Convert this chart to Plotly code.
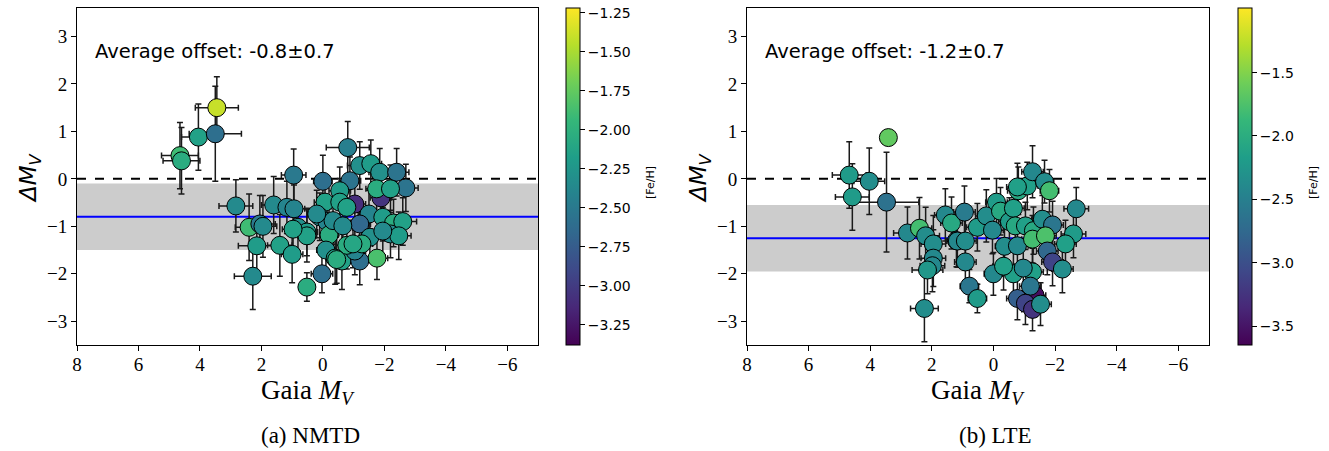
import plotly.graph_objects as go

W, H = 1329, 451

# ---------------- data: (a) NMTD ----------------
a_mv = [4.65, 4.60, 4.05, 3.45, 3.50, 2.83, 2.40, 2.05, 1.95, 2.15, 2.28, 1.60, 1.17, 0.94, 0.95,
        1.40, 1.00, 0.81, 0.52, 0.52, 0.52, 0.00, -0.07, 0.10, -0.13, -0.20, -0.10, 0.03, -0.33,
        -0.62, -0.81, -0.88, -0.55, -1.04, -1.20, -1.56, -1.85, -1.89, -2.40, -2.70, -1.50, -1.20,
        -1.95, -2.30, -2.60, -2.20, -2.47, -1.76, -1.20, -1.53, -1.04, -0.78, -1.27, -0.40, 0.20,
        -0.55, -0.78, -1.75, -2.20, -0.65, -1.95, -0.98, -0.45, 0.97]
a_dmv = [0.49, 0.38, 0.88, 1.50, 0.95, -0.57, -1.02, -0.95, -1.00, -1.41, -2.05, -0.55, -0.60, -0.63, 0.08,
         -1.40, -1.59, -1.02, -1.12, -1.20, -2.28, -0.05, -0.49, -0.80, -0.90, -1.18, -1.50, -2.00, -0.88,
         -1.73, 0.66, -0.04, -0.25, -0.53, 0.28, 0.32, 0.14, -0.40, 0.14, -0.19, -0.74, -0.95,
         -0.81, -0.93, -0.90, -1.16, -1.20, -1.67, -1.73, -1.23, -1.52, -1.40, -1.37, -1.67, -0.74,
         -0.49, -0.60, -0.21, -0.21, -0.99, -1.10, -1.37, -1.70, -1.06]
a_feh = [-1.90, -2.05, -2.15, -1.40, -2.60, -2.35, -1.90, -2.50, -2.35, -2.20, -2.35, -2.35, -2.40, -2.40, -2.50,
         -2.15, -2.20, -2.30, -2.20, -2.15, -2.05, -2.60, -2.15, -2.35, -2.40, -2.05, -2.30, -2.60, -2.35,
         -2.15, -2.45, -2.55, -2.20, -3.10, -2.30, -2.20, -2.30, -3.05, -2.55, -2.55, -2.40, -2.65,
         -2.20, -2.05, -2.15, -2.35, -2.20, -1.85, -2.60, -2.30, -2.40, -2.05, -2.05, -2.15, -2.35,
         -2.15, -2.15, -2.05, -2.15, -2.35, -2.35, -2.10, -2.05, -2.15]
a_xerr = [0.60, 0.60, 0.55, 0.70, 0.85, 0.55, 0.45, 0.50, 0.45, 0.60, 0.60, 0.40, 0.45, 0.35, 0.40,
          0.40, 0.35, 0.35, 0.35, 0.30, 0.25, 0.30, 0.35, 0.30, 0.35, 0.30, 0.30, 0.35, 0.35,
          0.30, 0.70, 0.35, 0.35, 0.35, 0.40, 0.35, 0.35, 0.35, 0.40, 0.40, 0.35, 0.35,
          0.35, 0.40, 0.45, 0.35, 0.40, 0.35, 0.35, 0.35, 0.35, 0.35, 0.35, 0.30, 0.30,
          0.35, 0.35, 0.35, 0.35, 0.35, 0.35, 0.35, 0.30, 0.35]
a_yerr = [0.70, 0.70, 0.70, 0.65, 1.00, 0.55, 0.70, 0.60, 0.65, 0.60, 0.70, 0.60, 0.55, 0.50, 0.55,
          0.65, 0.60, 0.50, 0.50, 0.55, 0.30, 0.55, 0.50, 0.50, 0.50, 0.55, 0.55, 0.40, 0.50,
          0.60, 0.55, 0.50, 0.50, 0.55, 0.50, 0.50, 0.50, 0.50, 0.50, 0.50, 0.50, 0.50,
          0.50, 0.50, 0.50, 0.50, 0.50, 0.45, 0.50, 0.50, 0.50, 0.50, 0.50, 0.55, 0.50,
          0.50, 0.50, 0.50, 0.50, 0.50, 0.50, 0.50, 0.50, 0.50]
a_mean, a_std = -0.8, 0.7
a_cmin, a_cmax = -3.38, -1.22
a_ticks = [-3.25, -3.0, -2.75, -2.5, -2.25, -2.0, -1.75, -1.5, -1.25]

# ---------------- data: (b) LTE ----------------
b_mv = [-1.35, 3.41, 4.68, 4.03, 4.58, 3.47, 2.79, 2.40, 2.20, 1.95, 1.95, 1.98, 2.14, 2.24, 1.56, 1.36,
        1.20, 0.94, 1.17, 0.91, 0.91, 0.78, 0.52, 0.52, 0.23, 0.03, -0.10, -0.23, -0.36, 0.00,
        -0.65, -0.52, -0.65, -0.78, -0.81, -1.10, -1.27, -1.66, -1.82, -0.71, -1.04, -1.30, -1.59,
        -1.92, -1.27, -1.69, -2.69, -2.60, -2.34, -1.75, -1.92, -2.24, -1.27, -1.20, -0.78, -1.04,
        -1.27, -1.53, -0.33, -0.97, -0.78]
b_dmv = [-2.45, 0.87, 0.08, -0.05, -0.38, -0.49, -1.14, -1.04, -1.20, -1.37, -1.67, -1.83, -1.92, -2.73, -0.76, -0.93,
         -1.30, -0.70, -1.31, -1.31, -1.75, -2.26, -2.52, -1.02, -0.78, -1.08, -0.49, -0.68, -1.42, -2.00,
         -2.00, -0.90, -0.62, -1.41, -0.25, -0.15, 0.15, -0.06, -0.25, -0.99, -0.99, -1.09, -0.85,
         -0.97, -1.27, -1.20, -0.63, -1.16, -1.37, -1.52, -1.75, -1.90, -1.96, -2.26, -2.52, -2.62,
         -2.75, -2.64, -1.84, -1.88, -0.17]
b_feh = [-3.55, -1.65, -2.20, -2.35, -2.20, -2.65, -2.40, -1.80, -2.35, -2.35, -2.40, -2.40, -2.25, -2.35, -2.40, -2.05,
         -2.40, -2.55, -2.40, -2.35, -2.40, -2.60, -2.20, -2.20, -2.35, -2.40, -2.20, -2.05, -2.35, -2.40,
         -2.15, -2.20, -2.15, -2.40, -2.05, -2.15, -2.40, -2.35, -1.80, -2.05, -2.15, -2.05, -2.35,
         -2.60, -1.80, -1.75, -2.40, -2.20, -2.15, -2.75, -3.10, -2.35, -2.15, -2.60, -2.85, -3.10,
         -3.25, -2.35, -2.15, -2.40, -2.15]
b_xerr = [0.35, 0.00, 0.55, 0.50, 0.55, 1.05, 0.45, 0.40, 0.45, 0.40, 0.40, 0.40, 0.50, 0.45, 0.35, 0.35,
          0.35, 0.35, 0.35, 0.35, 0.35, 0.30, 0.30, 0.35, 0.35, 0.35, 0.35, 0.35, 0.30, 0.30,
          0.35, 0.35, 0.35, 0.35, 0.35, 0.35, 0.35, 0.30, 0.30, 0.35, 0.35, 0.35, 0.35,
          0.35, 0.35, 0.35, 0.40, 0.40, 0.35, 0.35, 0.35, 0.35, 0.35, 0.35, 0.35, 0.35,
          0.35, 0.35, 0.35, 0.35, 0.35]
b_yerr = [0.45, 0.00, 0.70, 0.70, 0.70, 1.05, 0.55, 0.65, 0.60, 0.60, 0.60, 0.55, 0.50, 0.70, 0.55, 0.55,
          0.55, 0.55, 0.55, 0.50, 0.55, 0.35, 0.30, 0.50, 0.55, 0.50, 0.50, 0.50, 0.50, 0.45,
          0.50, 0.50, 0.50, 0.50, 0.50, 0.50, 0.55, 0.45, 0.45, 0.50, 0.50, 0.50, 0.50,
          0.50, 0.50, 0.50, 0.45, 0.50, 0.50, 0.50, 0.50, 0.50, 0.50, 0.50, 0.45, 0.45,
          0.45, 0.45, 0.50, 0.50, 0.50]
b_mean, b_std = -1.25, 0.7
b_cmin, b_cmax = -3.65, -0.99
b_ticks = [-3.5, -3.0, -2.5, -2.0, -1.5]

x_ticks = [8, 6, 4, 2, 0, -2, -4, -6]
y_ticks = [-3, -2, -1, 0, 1, 2, 3]
x_range = [8, -7]
y_range = [-3.5, 3.6]

SERIF = "Liberation Serif"
SANS = "DejaVu Sans"

# ---------------- geometry (pixels) ----------------
ax_top, ax_bot = 8, 345
panels = [
    dict(x0=77, x1=538, cb=566, cbt=650, mv=a_mv, dmv=a_dmv, feh=a_feh, xe=a_xerr, ye=a_yerr,
         mean=a_mean, std=a_std, cmin=a_cmin, cmax=a_cmax, ticks=a_ticks, fmt=".2f",
         label="Average offset: -0.8±0.7", cap="(a) NMTD", capx=310),
    dict(x0=747, x1=1209, cb=1238, cbt=1313, mv=b_mv, dmv=b_dmv, feh=b_feh, xe=b_xerr, ye=b_yerr,
         mean=b_mean, std=b_std, cmin=b_cmin, cmax=b_cmax, ticks=b_ticks, fmt=".1f",
         label="Average offset: -1.2±0.7", cap="(b) LTE", capx=995),
]

fig = go.Figure()
ydom = [1 - ax_bot / H, 1 - ax_top / H]
annotations = []
shapes = []
layout = dict(width=W, height=H, margin=dict(l=0, r=0, t=0, b=0, pad=0, autoexpand=False),
              paper_bgcolor="white", plot_bgcolor="white", showlegend=False)

for i, p in enumerate(panels):
    sfx = "" if i == 0 else "2"
    xa, ya = "x" + sfx, "y" + sfx
    ca = "coloraxis" + sfx
    # error bars (drawn below all markers)
    fig.add_trace(go.Scatter(
        x=p["mv"], y=p["dmv"], mode="markers", xaxis=xa, yaxis=ya,
        marker=dict(size=1, color="rgba(0,0,0,0)"),
        error_x=dict(type="data", array=p["xe"], color="#1a1a1a", thickness=1.5, width=3),
        error_y=dict(type="data", array=p["ye"], color="#1a1a1a", thickness=1.5, width=3),
        hoverinfo="skip"))
    fig.add_trace(go.Scatter(
        x=p["mv"], y=p["dmv"], mode="markers", xaxis=xa, yaxis=ya,
        marker=dict(size=18, color=p["feh"], coloraxis=ca,
                    line=dict(color="black", width=1))))
    axis_common = dict(showgrid=False, zeroline=False, showline=True, mirror=True,
                       linecolor="black", linewidth=1, ticks="outside", ticklen=5,
                       tickcolor="black", automargin=False,
                       tickfont=dict(family=SERIF, size=19, color="black"))
    layout["xaxis" + sfx] = dict(domain=[p["x0"] / W, p["x1"] / W], range=x_range,
                                 tickvals=x_ticks, anchor=ya, ticklabelstandoff=-3,
                                 **axis_common)
    layout["yaxis" + sfx] = dict(domain=ydom, range=y_range, tickvals=y_ticks,
                                 anchor=xa, **axis_common)
    layout[ca] = dict(colorscale="Viridis", cmin=p["cmin"], cmax=p["cmax"],
                      colorbar=dict(x=p["cb"] / W, xanchor="left", xpad=0, ypad=0,
                                    thickness=14, thicknessmode="pixels",
                                    len=(ax_bot - ax_top) / H, lenmode="fraction",
                                    y=ydom[0], yanchor="bottom",
                                    outlinecolor="black", outlinewidth=1,
                                    ticks="outside", ticklen=5, tickcolor="black",
                                    tickvals=p["ticks"], tickformat=p["fmt"],
                                    tickfont=dict(family=SANS, size=14, color="black")))
    annotations.append(dict(xref="paper", yref="paper", x=p["cbt"] / W, y=1 - 183 / H,
                            xanchor="center", yanchor="middle", showarrow=False, textangle=-90,
                            text="[Fe/H]", font=dict(family=SANS, size=11, color="black")))
    # band, mean line, zero line
    shapes.append(dict(type="rect", xref=xa + " domain", yref=ya, x0=0, x1=1,
                       y0=p["mean"] - p["std"], y1=p["mean"] + p["std"],
                       fillcolor="#cccccc", line=dict(width=0), layer="below"))
    shapes.append(dict(type="line", xref=xa + " domain", yref=ya, x0=0, x1=1,
                       y0=p["mean"], y1=p["mean"], line=dict(color="blue", width=2),
                       layer="below"))
    shapes.append(dict(type="line", xref=xa + " domain", yref=ya, x0=0, x1=1,
                       y0=0, y1=0, line=dict(color="black", width=2, dash="dash"),
                       layer="below"))
    annotations.append(dict(xref=xa + " domain", yref=ya + " domain", x=0.035, y=0.87,
                            xanchor="left", yanchor="middle", showarrow=False,
                            text=p["label"], font=dict(family=SANS, size=19.5, color="black")))
    cx = (p["x0"] + p["x1"]) / 2
    annotations.append(dict(xref="paper", yref="paper", x=cx / W, y=1 - 392 / H,
                            xanchor="center", yanchor="middle", showarrow=False,
                            text="Gaia <i>M</i><sub><i>V</i></sub>",
                            font=dict(family=SERIF, size=27, color="black")))
    annotations.append(dict(xref="paper", yref="paper", x=(p["x0"] - 47) / W, y=1 - 178 / H,
                            xanchor="center", yanchor="middle", showarrow=False, textangle=-90,
                            text="<i>ΔM</i><sub><i>V</i></sub>",
                            font=dict(family=SANS, size=23, color="black")))
    annotations.append(dict(xref="paper", yref="paper", x=p["capx"] / W, y=1 - 435 / H,
                            xanchor="center", yanchor="middle", showarrow=False,
                            text=p["cap"], font=dict(family=SERIF, size=23, color="black")))

layout["shapes"] = shapes
layout["annotations"] = annotations
fig.update_layout(**layout)
fig.write_html("out.html", config={"displayModeBar": False},
               post_script="document.body.style.margin='0px';document.body.style.overflow='hidden';")
